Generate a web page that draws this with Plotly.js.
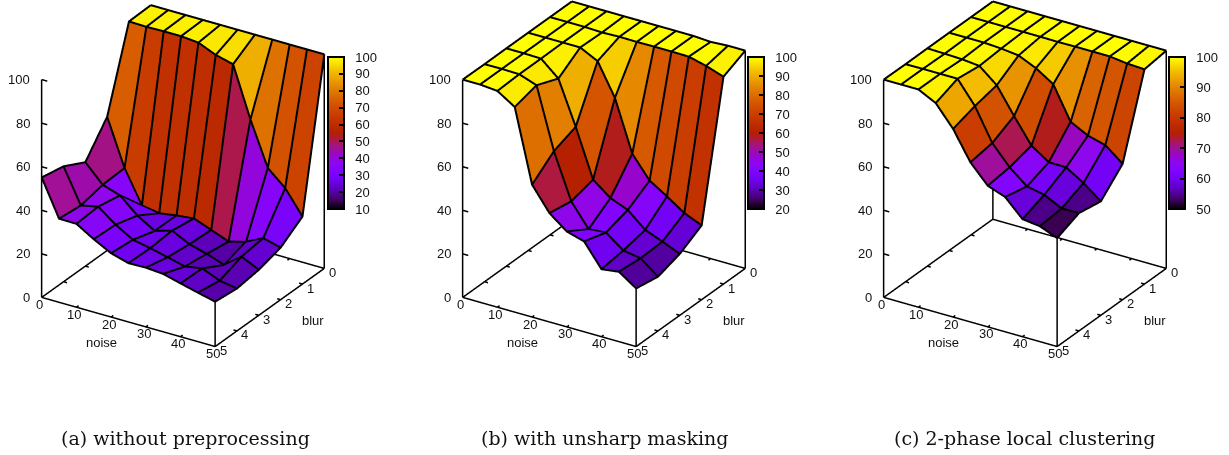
<!DOCTYPE html>
<html><head><meta charset="utf-8">
<script src="https://cdn.plot.ly/plotly-3.0.1.min.js"></script>
<style>html,body{margin:0;padding:0;background:#fff}</style></head>
<body><div id="chart" style="width:1229px;height:455px"></div>
<script>
const noise=[0,5,10,15,20,25,30,35,40,45,50];
const blur=[0,1,2,3,4,5];
const noiseTicks=[0,10,20,30,40,50];
const blurTicks=[0,1,2,3,4,5];
const zTicks=[0,20,40,60,80,100];
const captions=['(a) without preprocessing','(b) with unsharp masking','(c) 2-phase local clustering'];

const zA=[
[98.3,98.3,98.3,98.3,98.3,98.3,98.3,98.3,98.3,98.3,98.3],
[98,97.8,98,98,97.3,93.9,91.9,68.8,48.8,41.8,31],
[61.4,40.1,25.2,23.9,25.1,26,23,19.9,22,26,23.9],
[47.7,39.6,37,30,25.2,27.6,23.6,21.4,18.6,24.7,20.9],
[53,37.3,39,33,28.3,26.7,24.8,22.8,24.2,20.8,19.5],
[55.1,38.4,38.3,33.5,29.3,27,27.2,26.6,24.5,22.5,20.6]];
const zB=[
[100,100,100,100,100,100,100,100,99.5,100,100],
[100,100,100,99.7,100,99.9,100,100,99.9,97.9,95.2],
[100,100,100,100,96,81.4,58,47.9,42.9,37.5,34.1],
[100,100,99.8,92.9,73,51,44.8,41.6,34.7,31.6,28.2],
[99.9,100,99.8,97,69,48.2,37.7,38.4,32.4,31.1,24.9],
[100,100,99.3,94.2,60.8,50,43.8,41.5,31,32.1,26.7]];
const zC=[
[100,100,100,100,100,100,100,100,100,100,100],
[100,100,100,100,100,99.9,100,100,100,99,98.6],
[100,100,100,99.5,98.6,95,89.9,74.9,70.8,68.7,62.4],
[100,99.8,99.5,98.7,92.1,80.2,68.9,63.5,63.4,58.5,52.3],
[99.9,100,100,100,89.7,75,66.1,59.6,58,54,54.1],
[100,100,100,96,86.4,73.3,64.8,61.9,54,53,49.8]];

const palette=[[0,'#000000'],[0.05,'#390050'],[0.1,'#500096'],[0.15,'#6301ce'],[0.2,'#7202f2'],[0.25,'#8004ff'],[0.3,'#8c07f2'],[0.35,'#9705ce'],[0.4,'#a11096'],[0.45,'#ab1750'],[0.5,'#b42000'],[0.6,'#c63700'],[0.7,'#d55700'],[0.8,'#e48300'],[0.9,'#f2ba00'],[1,'#ffff00']];

const W=1229,H=455,FONT='"Liberation Sans",Arial,sans-serif';
const CB_TOP=57,CB_LEN=152,CB_W=16;
// unit view direction, and the small lift of grid lines toward the viewer so the faces do not cover them
const VIEW={x:0.475,y:-0.755,z:0.45},LIFT=0.012,ZASPECT=1.19;
function meshTrace(z,scene,cmin,cbLeft,dtick){
  const nx=noise.length,ny=blur.length,X=[],Y=[],Z=[],I=[],J=[],K=[],C=[];
  for(let r=0;r<ny;r++)for(let c=0;c<nx;c++){X.push(noise[c]);Y.push(blur[r]);Z.push(z[r][c]);}
  for(let r=0;r<ny-1;r++)for(let c=0;c<nx-1;c++){
    const a=r*nx+c,b=a+1,d=a+nx,e=d+1,m=(z[r][c]+z[r][c+1]+z[r+1][c]+z[r+1][c+1])/4;
    I.push(a,a);J.push(b,e);K.push(e,d);C.push(m,m);
  }
  return {type:'mesh3d',scene,x:X,y:Y,z:Z,i:I,j:J,k:K,intensity:C,intensitymode:'cell',flatshading:true,
    colorscale:palette,cmin,cmax:100,hoverinfo:'skip',
    lighting:{ambient:1,diffuse:0,specular:0,roughness:1,fresnel:0},
    colorbar:{x:cbLeft/W,xanchor:'left',xpad:0,ypad:0,y:1-CB_TOP/H,yanchor:'top',lenmode:'pixels',len:CB_LEN,thicknessmode:'pixels',thickness:CB_W,
      outlinecolor:'#000',outlinewidth:2,borderwidth:0,ticks:'inside',ticklen:6,tickwidth:1.5,tickcolor:'#000',
      tick0:cmin,dtick,tickprefix:'\u00a0\u00a0',tickfont:{family:FONT,size:13,color:'#111'}}};
}
function gridTrace(z,scene){
  const dx=VIEW.x*LIFT*50,dy=-VIEW.y*LIFT*5,dz=VIEW.z*LIFT*100/ZASPECT;
  const x=[],y=[],zz=[];
  z.forEach((row,r)=>{row.forEach((v,c)=>{x.push(noise[c]+dx);y.push(blur[r]+dy);zz.push(v+dz);});x.push(null);y.push(null);zz.push(null);});
  noise.forEach((n,c)=>{z.forEach((row,r)=>{x.push(n+dx);y.push(blur[r]+dy);zz.push(row[c]+dz);});x.push(null);y.push(null);zz.push(null);});
  return {type:'scatter3d',mode:'lines',scene,x,y,z:zz,line:{color:'#000',width:4},hoverinfo:'skip',showlegend:false};
}
function boxTrace(z,scene){
  const x=[],y=[],zz=[];
  const seg=(a,b,c,d,e,f)=>{x.push(a,d,null);y.push(b,e,null);zz.push(c,f,null);};
  seg(0,5,0,50,5,0);seg(50,5,0,50,0,0);seg(50,0,0,0,0,0);seg(0,0,0,0,5,0);
  seg(0,5,0,0,5,100);
  seg(50,5,0,50,5,z[5][10]);seg(50,0,0,50,0,z[0][10]);seg(0,0,0,0,0,z[0][0]);
  noiseTicks.forEach(n=>{seg(n,5,0,n,4.9,0);seg(n,0,0,n,0.1,0);});
  blurTicks.forEach(b=>{seg(0,b,0,1,b,0);seg(50,b,0,49,b,0);});
  zTicks.forEach(t=>{seg(0,5,t,1.6,5,t);});
  return {type:'scatter3d',mode:'lines',scene,x,y,z:zz,line:{color:'#000',width:3},hoverinfo:'skip',showlegend:false};
}
function labels(){
  const f={family:FONT,size:13,color:'#111'},out=[];
  const add=(x,y,z,text,xshift,yshift,xanchor)=>out.push({x,y,z,text:String(text),showarrow:false,xshift,yshift,xanchor:xanchor||'center',yanchor:'middle',font:f});
  noiseTicks.forEach(n=>add(n,5,0,n,-2,-7));
  blurTicks.forEach(b=>add(50,b,0,b,8,-4));
  zTicks.forEach(t=>add(0,5,t,t,-10,0,'right'));
  add(25,5,0,'noise',-27,-21);
  add(50,2.5,0,'blur',43,-13);
  return out;
}
function scene(left,annotations){
  const hide={showgrid:false,zeroline:false,showline:false,showticklabels:false,showbackground:false,showspikes:false,ticks:'',title:{text:''}};
  return {domain:{x:[left/W,(left+360)/W],y:[1-348/H,1]},
    aspectmode:'manual',aspectratio:{x:1.225,y:1.225,z:1.458},
    xaxis:{...hide,range:[-1,51]},yaxis:{...hide,range:[5.1,-0.1]},zaxis:{...hide,range:[-2,102]},
    camera:{projection:{type:'orthographic'},center:{x:0,y:0,z:0},up:{x:0,y:0,z:1},eye:{x:VIEW.x*1.5,y:VIEW.y*1.5,z:VIEW.z*1.5}},
    annotations};
}
const data=[
 meshTrace(zA,'scene',10,328,10),gridTrace(zA,'scene'),boxTrace(zA,'scene'),
 meshTrace(zB,'scene2',20,748,10),gridTrace(zB,'scene2'),boxTrace(zB,'scene2'),
 meshTrace(zC,'scene3',50,1169,10),gridTrace(zC,'scene3'),boxTrace(zC,'scene3')];
const capX=[185,604,1024.5];
const layout={width:W,height:H,margin:{l:0,r:0,t:0,b:0},paper_bgcolor:'#fff',showlegend:false,
 scene:scene(3,labels()),scene2:scene(424,labels()),scene3:scene(845,labels()),
 annotations:captions.map((t,i)=>({xref:'paper',yref:'paper',x:capX[i]/W,y:1-437.5/H,text:t,showarrow:false,xanchor:'center',yanchor:'middle',font:{family:'"DejaVu Serif",serif',size:19,color:'#111'}}))};
Plotly.newPlot('chart',data,layout,{displayModeBar:false}).then(gd=>{
  // raise each colour bar's axis (its tick marks) above the colour fill
  gd.querySelectorAll('.colorbar').forEach(cb=>{
    const ax=cb.querySelector('.cbaxis');
    if(ax&&ax.parentNode)ax.parentNode.appendChild(ax);
  });
});
</script></body></html>
